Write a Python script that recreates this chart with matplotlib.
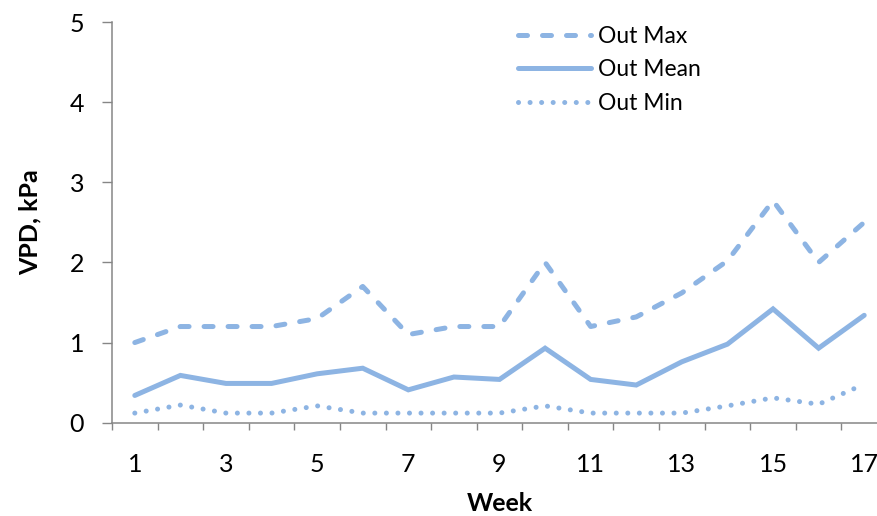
import numpy as np
import matplotlib.pyplot as plt

# Weekly VPD values (kPa)
weeks = list(range(1, 18))
out_max = [1.0, 1.2, 1.2, 1.2, 1.3, 1.7, 1.1, 1.2, 1.2, 2.0, 1.2, 1.32, 1.62, 2.02, 2.77, 2.0, 2.5]
out_mean = [0.34, 0.59, 0.49, 0.49, 0.61, 0.68, 0.41, 0.57, 0.54, 0.93, 0.54, 0.47, 0.76, 0.98, 1.42, 0.93, 1.34]
out_min = [0.12, 0.22, 0.12, 0.12, 0.21, 0.12, 0.12, 0.12, 0.12, 0.21, 0.12, 0.12, 0.12, 0.21, 0.31, 0.23, 0.48]

col = '#8DB4E3'
axis_col = '#868686'

plt.rcParams['font.family'] = ['Lato', 'DejaVu Sans']

fig = plt.figure(figsize=(8.77, 5.16), dpi=100)
W, H = 877, 516
x0, x1 = 112, 887
y0, y1 = 422.7, 22
ax = fig.add_axes([x0 / W, 1 - y0 / H, (x1 - x0) / W, (y0 - y1) / H])

lw = 3.6
ax.plot(weeks, out_max, color=col, lw=lw, dashes=(1.8, 3.0),
        dash_capstyle='round', label='Out Max')
ax.plot(weeks, out_mean, color=col, lw=lw, solid_capstyle='round',
        solid_joinstyle='miter', label='Out Mean')
ax.plot(weeks, out_min, color=col, lw=lw, dashes=(0.01, 2.3),
        dash_capstyle='round', label='Out Min')

ax.set_xlim(0.5, 17.5)
ax.set_ylim(0, 5)

# category axis: ticks between categories, labels on odd weeks
ax.set_xticks(np.arange(0.5, 18, 1))
ax.set_xticklabels([])
ax.set_xticks(weeks[::2], minor=True)
ax.set_xticklabels([str(w) for w in weeks[::2]], minor=True)
ax.tick_params(axis='x', which='major', direction='out', length=5,
               width=1, color=axis_col)
ax.tick_params(axis='x', which='minor', length=0, pad=22, labelsize=18)

ax.set_yticks(range(0, 6))
ax.tick_params(axis='y', direction='out', length=7, width=1,
               color=axis_col, pad=13, labelsize=18)

for s in ['top', 'right']:
    ax.spines[s].set_visible(False)
for s in ['left', 'bottom']:
    ax.spines[s].set_color(axis_col)
    ax.spines[s].set_linewidth(1.1)

ax.set_xlabel('Week', fontsize=18, fontweight='bold', labelpad=11)
ax.set_ylabel('VPD, kPa', fontsize=18, fontweight='bold', labelpad=20)

ax.legend(loc='upper left', bbox_to_anchor=(497 / W, 1 - 5 / H),
          bbox_transform=fig.transFigure, frameon=False, fontsize=16.5,
          handlelength=3.2, handletextpad=0.3, labelspacing=0.55)

fig.savefig('out.png', dpi=100)
